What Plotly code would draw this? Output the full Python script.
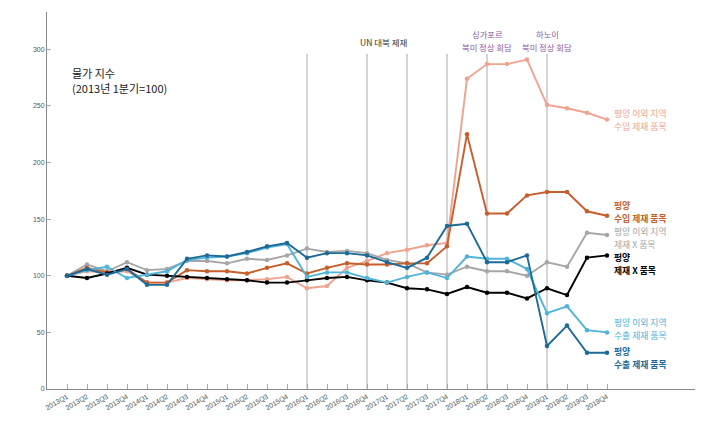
import plotly.graph_objects as go

quarters = [f"{y}Q{q}" for y in range(2013, 2020) for q in range(1, 5)]

outside_import = [100, 104, 103, 104, 94, 94, 98, 97, 96, 96, 97, 99, 89, 91, 107, 113,
                  120, 123, 127, 129, 274, 287, 287, 291, 251, 248, 244, 238]
pyongyang_import = [100, 107, 103, 106, 94, 94, 105, 104, 104, 102, 107, 111, 102, 107, 111, 110,
                    110, 111, 111, 126, 225, 155, 155, 171, 174, 174, 157, 153]
outside_nonsanction = [100, 110, 104, 112, 105, 106, 113, 113, 111, 115, 114, 118, 124, 121, 122, 120,
                       114, 111, 103, 101, 108, 104, 104, 100, 112, 108, 138, 136]
pyongyang_nonsanction = [100, 98, 102, 107, 101, 100, 99, 98, 97, 96, 94, 94, 96, 98, 99, 96,
                         94, 89, 88, 84, 90, 85, 85, 80, 89, 83, 116, 118]
outside_export = [100, 105, 108, 98, 101, 104, 114, 116, 117, 120, 125, 128, 99, 103, 103, 98,
                  94, 99, 103, 98, 117, 115, 115, 106, 67, 73, 52, 50]
pyongyang_export = [100, 106, 101, 106, 92, 92, 115, 118, 117, 121, 126, 129, 116, 120, 120, 118,
                    112, 107, 116, 144, 146, 112, 112, 118, 38, 56, 32, 32]

# (values, colour, label lines, bold, pixel row of each label line in the page)
series = [
    (outside_import, "#f0a38e", ["평양 이외 지역", "수입 제재 품목"], False, [113.5, 126.5]),
    (outside_nonsanction, "#a6a6a6", ["평양 이외 지역", "제재 X 품목"], False, [231.5, 244.5]),
    (pyongyang_import, "#c65f2c", ["평양", "수입 제재 품목"], True, [205.5, 218.5]),
    (pyongyang_nonsanction, "#000000", ["평양", "제재 X 품목"], True, [257.5, 270.5]),
    (outside_export, "#4fb4da", ["평양 이외 지역", "수출 제재 품목"], False, [323, 336]),
    (pyongyang_export, "#1d6a98", ["평양", "수출 제재 품목"], True, [352, 365]),
]

event_idx = [12, 15, 17, 19, 21, 24]

KR = "Noto Sans CJK KR"
x = list(range(len(quarters)))

BODY = 8  # default page margin around the figure
Y_TOP = 333
PLOT_TOP_PX, PLOT_BOT_PX = 12, 389.3
PLOT_LEFT_PX = 46.7
X_MIN, X_MAX = -1, 31.5
PX_PER_Q = 20
PLOT_RIGHT_PX = PLOT_LEFT_PX + (X_MAX - X_MIN) * PX_PER_Q


def px_to_y(py):
    return (PLOT_BOT_PX - py) / (PLOT_BOT_PX - PLOT_TOP_PX) * Y_TOP


fig = go.Figure()
for vals, color, lines, bold, rows in series:
    fig.add_trace(go.Scatter(
        x=x, y=vals, mode="lines+markers",
        line=dict(color=color, width=1.9),
        marker=dict(color=color, size=4.5),
        showlegend=False, hoverinfo="skip"))

annotations = []
for vals, color, lines, bold, rows in series:
    for line, py in zip(lines, rows):
        txt = "<b>" + line + "</b>" if bold else line
        annotations.append(dict(x=27.3, y=px_to_y(py), xref="x", yref="y", text=txt, showarrow=False,
                                xanchor="left", yanchor="middle", align="left", borderpad=0,
                                font=dict(family=KR, size=8.8, color=color)))

event_font = dict(family=KR, size=8.3, color="#8e55a8")
annotations += [
    dict(x=0.17, y=px_to_y(73), xref="x", yref="y", text="물가 지수", showarrow=False,
         xanchor="left", yanchor="middle", font=dict(family=KR, size=11, color="#1a1a1a")),
    dict(x=0.17, y=px_to_y(88.5), xref="x", yref="y", text="(2013년 1분기=100)", showarrow=False,
         xanchor="left", yanchor="middle", font=dict(family=KR, size=11, color="#1a1a1a")),
    dict(x=15.8, y=px_to_y(42.5), xref="x", yref="y", text="UN 대북 제재", showarrow=False,
         xanchor="center", yanchor="middle", font=dict(family=KR, size=8.5, color="#333333")),
    dict(x=21, y=px_to_y(34.5), xref="x", yref="y", text="싱가포르", showarrow=False,
         xanchor="center", yanchor="middle", borderpad=0, font=event_font),
    dict(x=21, y=px_to_y(47), xref="x", yref="y", text="북미 정상 회담", showarrow=False,
         xanchor="center", yanchor="middle", borderpad=0, font=event_font),
    dict(x=24, y=px_to_y(34.5), xref="x", yref="y", text="하노이", showarrow=False,
         xanchor="center", yanchor="middle", borderpad=0, font=event_font),
    dict(x=24, y=px_to_y(47), xref="x", yref="y", text="북미 정상 회담", showarrow=False,
         xanchor="center", yanchor="middle", borderpad=0, font=event_font),
]

shapes = [dict(type="line", xref="x", yref="y", x0=i, x1=i, y0=0, y1=296,
               line=dict(color="#ababab", width=1), layer="below") for i in event_idx]

W, H = 703, 430
fig.update_layout(
    width=W, height=H,
    margin=dict(l=PLOT_LEFT_PX - BODY, r=W - (PLOT_RIGHT_PX - BODY),
                t=PLOT_TOP_PX - BODY, b=H - (PLOT_BOT_PX - BODY), autoexpand=False),
    paper_bgcolor="white", plot_bgcolor="white",
    annotations=annotations, shapes=shapes,
    xaxis=dict(range=[X_MIN, X_MAX], tickvals=x, ticktext=quarters, tickangle=-30, automargin=False,
               showgrid=False, zeroline=False, showline=True, linecolor="#888888", linewidth=1,
               ticks="inside", ticklen=5, tickcolor="#aaaaaa",
               tickfont=dict(family="Liberation Sans", size=7, color="#555555")),
    yaxis=dict(range=[0, Y_TOP], tickvals=[0, 50, 100, 150, 200, 250, 300], automargin=False,
               showgrid=False, zeroline=False, showline=True, linecolor="#888888", linewidth=1,
               ticks="inside", ticklen=4, tickcolor="#aaaaaa",
               tickfont=dict(family="Liberation Sans", size=7, color="#555555")),
)

fig.write_html("out.html")
